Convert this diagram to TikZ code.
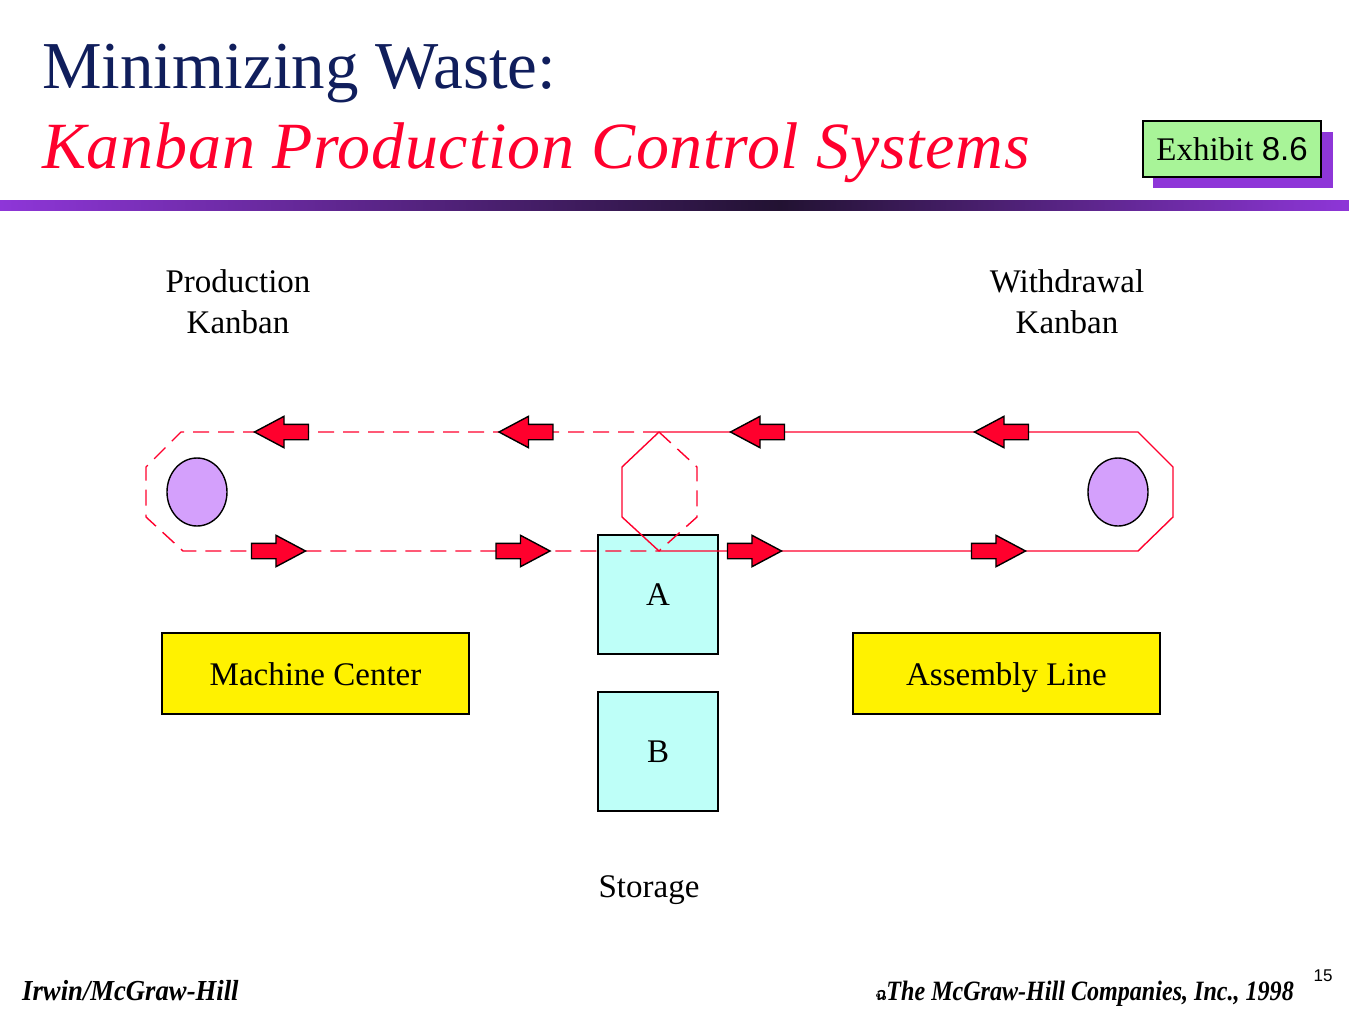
\documentclass[tikz,border=0pt]{standalone}
\usepackage{fontspec}
\setmainfont{Liberation Serif}
\newfontfamily\arialfont{Liberation Sans}
\newfontfamily\thaifont[Script=Thai]{Loma}
\usetikzlibrary{shapes.arrows}
\usetikzlibrary{shapes.geometric}
\definecolor{titlenavy}{RGB}{16,30,92}
\definecolor{kanbanred}{RGB}{255,0,45}
\definecolor{pulley}{RGB}{212,160,252}
\definecolor{storecyan}{RGB}{190,255,248}
\definecolor{exgreen}{RGB}{168,244,152}
\definecolor{expurple}{RGB}{142,54,216}
\definecolor{bardark}{RGB}{34,18,50}

\begin{document}
\begin{tikzpicture}[x=1pt,y=-1pt,
    body/.style={font=\fontsize{33}{41}\selectfont},
    belt/.style={draw=kanbanred,line width=1.4pt},
    dashbelt/.style={belt,dash pattern=on 16pt off 9pt},
    card/.style={single arrow,draw=black,line width=1.4pt,fill=kanbanred,inner sep=7pt,anchor=tip,
      single arrow head extend=8pt,single arrow tip angle=56,minimum height=54pt},
    wheel/.style={ellipse,draw=black,line width=1.4pt,fill=pulley,minimum width=60pt,minimum height=68pt,inner sep=0pt},
    bin/.style={rectangle,draw=black,line width=1.4pt,fill=storecyan,minimum width=120pt,minimum height=119pt,body},
    station/.style={rectangle,draw=black,line width=1.4pt,fill=yellow,minimum width=307pt,minimum height=81pt,
      text height=23pt,text depth=0pt,body}]
  \useasboundingbox (0,0) rectangle (1349,1012);
  \node[anchor=base west,text=titlenavy,font=\fontsize{67}{80}\selectfont,inner sep=0pt] (title) at (42,88) {Minimizing Waste:};
  \node[anchor=base west,text=kanbanred,font=\fontsize{66}{80}\itshape\addfontfeature{LetterSpace=1.2},inner sep=0pt] (subtitle) at (42,168) {Kanban Production Control Systems};
  \shade[left color=expurple,right color=bardark] (0,200) rectangle (780,210);
  \shade[left color=bardark,right color=expurple] (780,200) rectangle (1349,210);
  \fill[expurple] (1153,132) rectangle (1333,188);
  \node[draw=black,line width=1.4pt,fill=exgreen,minimum width=178pt,minimum height=56pt,body] (exhibit) at (1232,149) {Exhibit {\arialfont 8.6}};

  \node[body,align=center] (pk) at (238,302) {Production\\Kanban};
  \node[body,align=center] (wk) at (1067,302) {Withdrawal\\Kanban};

  \node[bin] (a) at (658,594.5) {A};
  \node[bin] (b) at (658,751.5) {B};
  \node[body] (storage) at (649,890) {Storage};

  \coordinate (ht) at (659,432);
  \coordinate (hb) at (659,551);
  \draw[dashbelt] (ht) -- (181,432) -- (146,467) -- (146,517) -- (183,551) -- (hb);
  \draw[dashbelt] (ht) -- (697,467) -- (697,517) -- (hb);
  \draw[belt] (ht) -- (622,467) -- (622,517) -- (hb);
  \draw[belt] (ht) -- (1138,432) -- (1173,467) -- (1173,517) -- (1138,551) -- (hb);

  \node[wheel] (pl) at (197,492) {};
  \node[wheel] (pr) at (1118,492) {};

  \foreach \x in {280,524.5,756,1000} {
    \node[card,shape border rotate=180] at (\x-27,432) {};
    \node[card] at (\x+27,551) {};
  }

  \node[station] (mc) at (315.5,673.5) {Machine Center};
  \node[station] (al) at (1006.5,673.5) {Assembly Line};

  \node[anchor=base west,font=\fontsize{29}{30}\bfseries\itshape\addfontfeature{FakeStretch=0.92},inner sep=0pt] (irwin) at (22,1000) {Irwin/McGraw-Hill};
  \node[anchor=base east,font=\fontsize{28}{30}\bfseries\itshape\addfontfeature{FakeStretch=0.86},inner sep=0pt] (copy) at (1294,1000) {{\thaifont\fontsize{18}{20}\selectfont ฉ}The McGraw-Hill Companies, Inc., 1998};
  \node[font=\arialfont\fontsize{17}{20}\selectfont,inner sep=0pt] (page) at (1323,976) {15};
\end{tikzpicture}
\end{document}
